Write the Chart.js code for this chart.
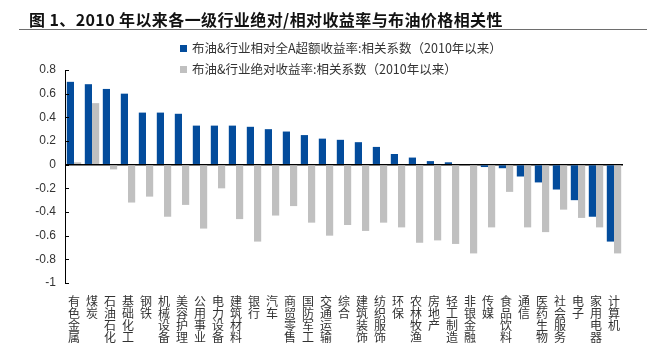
<!DOCTYPE html>
<html>
<head>
<meta charset="utf-8">
<script src="https://cdn.jsdelivr.net/npm/chart.js@4"></script>
<style>
  body { margin: 0; background: #fff; font-family: "Noto Sans CJK SC", "Liberation Sans", sans-serif; }
  #wrap { position: relative; width: 658px; height: 346px; }
  #title {
    position: absolute; left: 19px; top: 8px; width: 628px; height: 22px;
    border-bottom: 1px solid #6e6e6e;
    font-weight: bold; font-size: 16px; line-height: 22px; color: #111;
    padding-left: 10px; box-sizing: border-box; white-space: nowrap; letter-spacing: 0.4px;
  }
  .leg { position: absolute; left: 180px; font-size: 12.5px; color: #333; white-space: nowrap; line-height: 16px; }
  .leg span { display: inline-block; width: 7px; height: 7px; margin-right: 5px; vertical-align: 1px; }
  canvas { position: absolute; left: 0; top: 0; }
</style>
</head>
<body>
<div id="wrap">
  <canvas id="chart" width="658" height="346"></canvas>
  <div id="title">图 1、2010 年以来各一级行业绝对/相对收益率与布油价格相关性</div>
  <div class="leg" style="top:40px"><span style="background:#034c9c"></span>布油&amp;行业相对全A超额收益率:相关系数（2010年以来）</div>
  <div class="leg" style="top:61px"><span style="background:#c0c0c0"></span>布油&amp;行业绝对收益率:相关系数（2010年以来）</div>
</div>
<script>
var blue = "#034c9c";
var gray = "#c0c0c0";

var industries = ["有色金属", "煤炭", "石油石化", "基础化工", "钢铁", "机械设备", "美容护理", "公用事业",
  "电力设备", "建筑材料", "银行", "汽车", "商贸零售", "国防军工", "交通运输", "综合", "建筑装饰",
  "纺织服饰", "环保", "农林牧渔", "房地产", "轻工制造", "非银金融", "传媒", "食品饮料", "通信",
  "医药生物", "社会服务", "电子", "家用电器", "计算机"];

// 相对全A超额收益率 相关系数
var relative = [0.70, 0.68, 0.64, 0.60, 0.44, 0.44, 0.43, 0.33, 0.33, 0.33, 0.32, 0.30, 0.28, 0.25,
  0.22, 0.21, 0.19, 0.15, 0.09, 0.06, 0.03, 0.02, 0.00, -0.02, -0.03, -0.10, -0.15, -0.21, -0.30, -0.44, -0.65];

// 绝对收益率 相关系数
var absolute = [0.02, 0.52, -0.04, -0.32, -0.27, -0.44, -0.34, -0.54, -0.20, -0.46, -0.65, -0.43, -0.35,
  -0.49, -0.60, -0.51, -0.56, -0.49, -0.53, -0.66, -0.64, -0.67, -0.75, -0.53, -0.23, -0.53, -0.57,
  -0.38, -0.45, -0.53, -0.75];

var yTicks = [0.8, 0.6, 0.4, 0.2, 0, -0.2, -0.4, -0.6, -0.8, -1];

// vertical labels, one char per line
var labels = industries.map((name) => name.split(""));

// small ticks pointing into the plot
const innerTicks = {
  id: "innerTicks",
  afterDraw(chart) {
    const y = chart.scales.y;
    const ctx = chart.ctx;
    ctx.save();
    ctx.strokeStyle = "#000";
    ctx.lineWidth = 1;
    for (let v of yTicks) {
      let py = Math.round(y.getPixelForValue(v)) + 0.5;
      ctx.beginPath();
      ctx.moveTo(y.right, py);
      ctx.lineTo(y.right + 4, py);
      ctx.stroke();
    }
    ctx.restore();
  },
};

const ctx = document.getElementById("chart");
new Chart(ctx, {
  type: "bar",
  data: {
    labels: labels,
    datasets: [
      {
        label: "布油&行业相对全A超额收益率:相关系数（2010年以来）",
        data: relative,
        backgroundColor: blue,
      },
      {
        label: "布油&行业绝对收益率:相关系数（2010年以来）",
        data: absolute,
        backgroundColor: gray,
      },
    ],
  },
  options: {
    responsive: false,
    animation: false,
    layout: { padding: { top: 70, right: 35, left: 0, bottom: 0 } },
    datasets: { bar: { categoryPercentage: 0.8, barPercentage: 1.0 } },
    plugins: { legend: { display: false }, tooltip: { enabled: false } },
    scales: {
      x: {
        grid: { display: false },
        border: { display: false },
        ticks: {
          autoSkip: false,
          maxRotation: 0,
          padding: 5,
          color: "#333",
          font: { size: 12, family: "'Noto Sans CJK SC', sans-serif", lineHeight: 0.98 },
        },
        afterFit: (scale) => { scale.height = 63; },
      },
      y: {
        min: -1,
        max: 0.8,
        afterBuildTicks: (scale) => { scale.ticks = yTicks.map((v) => ({ value: v })); },
        grid: {
          drawTicks: false,
          color: (c) => (c.tick && c.tick.value === 0 ? "#000" : "transparent"),
          lineWidth: 1.4,
        },
        border: { display: true, color: "#000", width: 1 },
        ticks: {
          padding: 9,
          color: "#333",
          font: { size: 12, family: "'Liberation Sans', 'Noto Sans', sans-serif" },
          callback: (v) => String(Math.round(v * 10) / 10),
        },
        afterFit: (scale) => { scale.width = 65; },
      },
    },
  },
  plugins: [innerTicks],
});
</script>
</body>
</html>
